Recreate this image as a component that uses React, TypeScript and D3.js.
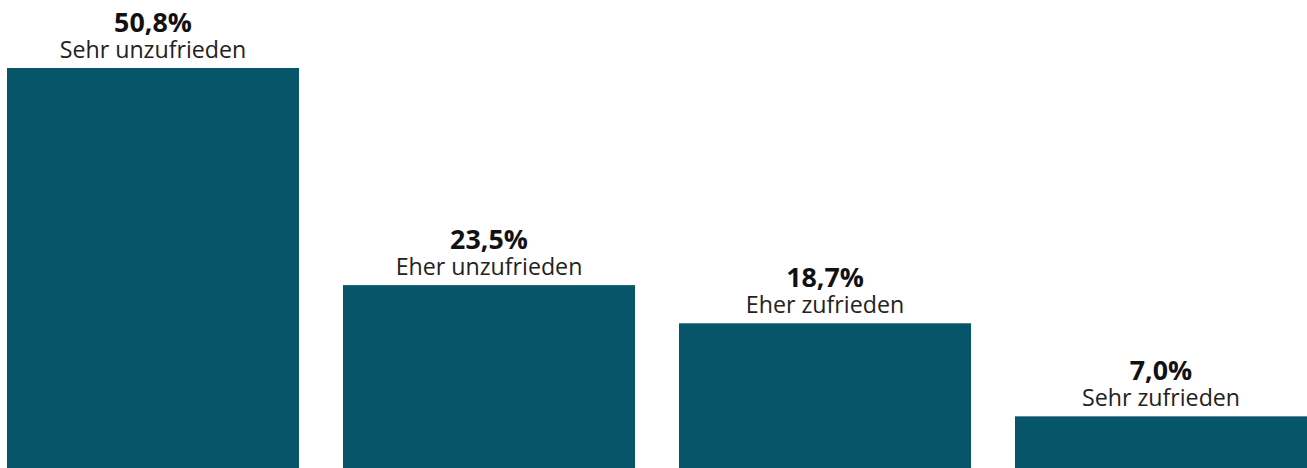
import React from "react";
import * as d3 from "d3";

const categories = ["Sehr unzufrieden", "Eher unzufrieden", "Eher zufrieden", "Sehr zufrieden"];
const values = [50.8, 23.5, 18.7, 7.0];
const valueLabels = ["50,8%", "23,5%", "18,7%", "7,0%"];

const W = 1307;
const H = 468;

export default function App() {
  const x = d3.scaleBand<string>().domain(categories).range([7, 1307]).paddingInner(0.131).paddingOuter(0);
  const y = d3.scaleLinear().domain([0, 50.8]).range([472, 68]);
  return (
    <svg
      width={W}
      height={H}
      style={{ position: "absolute", left: 0, top: 0, display: "block" }}
      fontFamily="'Open Sans', sans-serif"
    >
      {categories.map((c, i) => {
        const bx = x(c)!;
        const bw = x.bandwidth();
        const top = y(values[i]);
        const cx = bx + bw / 2;
        return (
          <g key={c}>
            <rect x={bx} y={top} width={bw} height={y(0) - top} fill="#065568" />
            <text x={cx} y={top - 36} textAnchor="middle" fontSize={26.8} fontWeight={700} fill="#111">
              {valueLabels[i]}
            </text>
            <text x={cx} y={top - 10.5} textAnchor="middle" fontSize={23.2} fill="#222">
              {c}
            </text>
          </g>
        );
      })}
    </svg>
  );
}
